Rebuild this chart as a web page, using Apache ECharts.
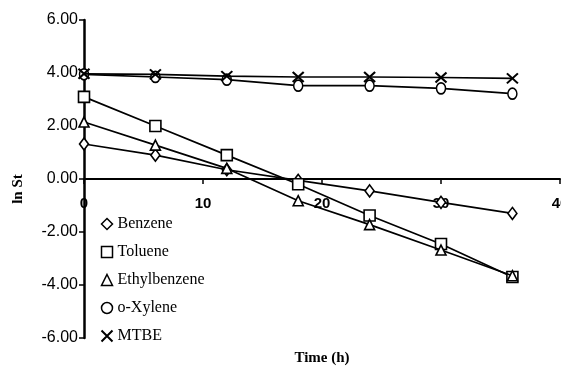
<!DOCTYPE html>
<html><head><meta charset="utf-8">
<script src="https://cdn.jsdelivr.net/npm/echarts@6/dist/echarts.min.js"></script>
<style>html,body{margin:0;padding:0;background:#fff}#c{width:561px;height:373px}</style>
</head><body><div id="c"></div>
<script>
const times = [0, 6, 12, 18, 24, 30, 36];
const benzene = [1.32, 0.90, 0.35, -0.05, -0.45, -0.88, -1.30];
const toluene = [3.10, 2.00, 0.90, -0.20, -1.38, -2.45, -3.70];
const ethylbenzene = [2.15, 1.28, 0.40, -0.82, -1.72, -2.68, -3.65];
const oXylene = [3.95, 3.85, 3.75, 3.52, 3.52, 3.42, 3.22];
const mtbe = [3.97, 3.95, 3.88, 3.85, 3.85, 3.83, 3.80];
const seriesNames = ['Benzene', 'Toluene', 'Ethylbenzene', 'o-Xylene', 'MTBE'];
const xTicks = [0, 10, 20, 30, 40];
const yTicks = [-6, -4, -2, 0, 2, 4, 6];

const X_PATH = 'path://M0 0L10 10M10 0L0 10';
const symbols = ['diamond', 'rect', 'triangle', 'circle', X_PATH];
const sizes = [[9, 12], [11, 11], [10, 10], [9, 11], [11, 10]];
const values = [benzene, toluene, ethylbenzene, oXylene, mtbe];

const chart = echarts.init(document.getElementById('c'), null, {renderer: 'canvas'});
const series = seriesNames.map((n, i) => ({
  name: n,
  type: 'line',
  data: times.map((t, j) => [t, values[i][j]]),
  symbol: symbols[i],
  symbolSize: sizes[i],
  showAllSymbol: true,
  lineStyle: {color: '#000', width: 1.7},
  itemStyle: {color: i === 4 ? 'none' : '#fff', borderColor: '#000', borderWidth: i === 4 ? 2 : 1.6},
  z: 2 + i
}));

chart.setOption({
  animation: false,
  backgroundColor: '#fff',
  grid: {left: 84, right: 1, top: 20, bottom: 35, containLabel: false, outerBoundsMode: 'none'},
  xAxis: {
    type: 'value', min: 0, max: 40, interval: 10,
    offset: -159,
    axisLine: {onZero: false, lineStyle: {color: '#000', width: 2}},
    axisTick: {show: true, inside: false, length: 5, lineStyle: {color: '#000', width: 1.5}},
    splitLine: {show: false},
    axisLabel: {margin: 17, color: '#000', fontFamily: 'Liberation Sans', fontSize: 15, fontWeight: 'bold',
      formatter: v => xTicks.includes(v) ? String(v) : ''},
    name: 'Time (h)', nameLocation: 'middle', nameGap: 172,
    nameTextStyle: {color: '#000', fontFamily: 'Liberation Serif', fontSize: 15, fontWeight: 'bold'}
  },
  yAxis: {
    type: 'value', min: -6, max: 6, interval: 2,
    axisLine: {onZero: false, lineStyle: {color: '#000', width: 2.5}},
    axisTick: {show: true, inside: false, length: 5, lineStyle: {color: '#000', width: 1.5}},
    splitLine: {show: false},
    axisLabel: {margin: 6, color: '#000', fontFamily: 'Liberation Sans', fontSize: 16, letterSpacing: -1,
      formatter: v => yTicks.includes(v) ? v.toFixed(2) : ''},
    name: 'ln St', nameLocation: 'middle', nameGap: 58, nameRotate: 90,
    nameTextStyle: {color: '#000', fontFamily: 'Liberation Serif', fontSize: 15, fontWeight: 'bold', padding: [0, 20, 0, 0]}
  },
  legend: {
    orient: 'vertical', left: 94, top: 211, itemGap: 12,
    itemWidth: 11, itemHeight: 11, itemStyle: {color: '#fff', borderColor: '#000', borderWidth: 1.5},
    textStyle: {color: '#000', fontFamily: 'Liberation Serif', fontSize: 16, letterSpacing: -0.8},
    data: seriesNames.map((n, i) => ({name: n, icon: symbols[i],
      itemStyle: i === 4 ? {color: 'none', borderColor: '#000', borderWidth: 2} : {color: '#fff', borderColor: '#000', borderWidth: 1.5}}))
  },
  series: series
});
</script></body></html>
